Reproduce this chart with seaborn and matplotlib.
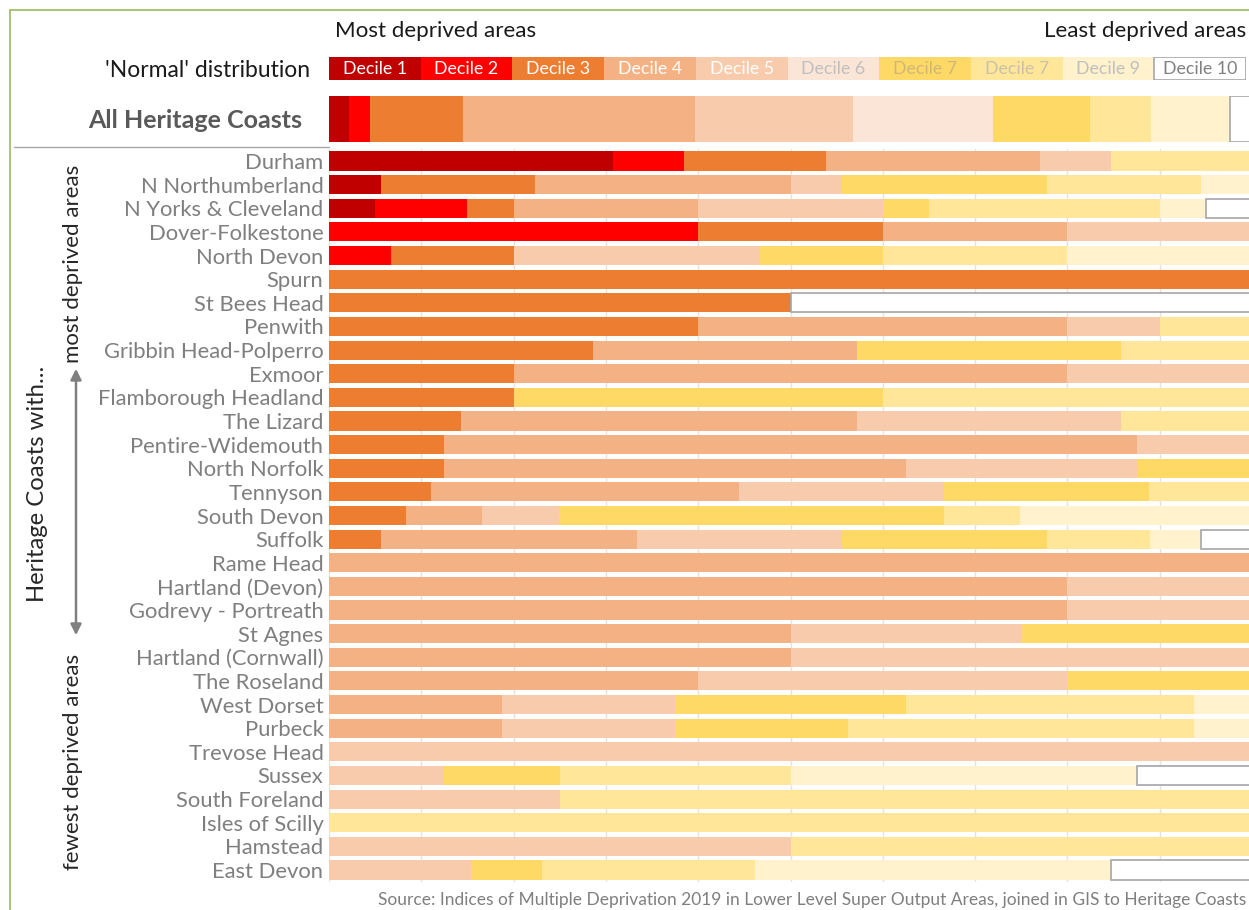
import matplotlib
matplotlib.use("Agg")
import matplotlib.pyplot as plt
import seaborn as sns
import numpy as np
import pandas as pd
from matplotlib.lines import Line2D

# ---------------- data ----------------
coasts = ["Durham", "N Northumberland", "N Yorks & Cleveland", "Dover-Folkestone",
          "North Devon", "Spurn", "St Bees Head", "Penwith", "Gribbin Head-Polperro",
          "Exmoor", "Flamborough Headland", "The Lizard", "Pentire-Widemouth",
          "North Norfolk", "Tennyson", "South Devon", "Suffolk", "Rame Head",
          "Hartland (Devon)", "Godrevy - Portreath", "St Agnes", "Hartland (Cornwall)",
          "The Roseland", "West Dorset", "Purbeck", "Trevose Head", "Sussex",
          "South Foreland", "Isles of Scilly", "Hamstead", "East Devon"]

# share (%) of each coast's areas falling in each deprivation decile
d1 = [30.8, 5.6, 5, 0, 0, 0, 0, 0, 0, 0, 0, 0, 0, 0, 0, 0, 0, 0, 0, 0, 0, 0, 0, 0, 0, 0, 0, 0, 0, 0, 0]
d2 = [7.7, 0, 10, 40, 6.7, 0, 0, 0, 0, 0, 0, 0, 0, 0, 0, 0, 0, 0, 0, 0, 0, 0, 0, 0, 0, 0, 0, 0, 0, 0, 0]
d3 = [15.4, 16.7, 5, 20, 13.3, 100, 50, 40, 28.6, 20, 20, 14.3, 12.5, 12.5, 11.1, 8.3, 5.6,
      0, 0, 0, 0, 0, 0, 0, 0, 0, 0, 0, 0, 0, 0]
d4 = [23.1, 27.8, 20, 20, 0, 0, 0, 40, 28.6, 60, 0, 42.9, 75, 50, 33.3, 8.3, 27.8,
      100, 80, 80, 50, 50, 40, 18.75, 18.75, 0, 0, 0, 0, 0, 0]
d5 = [7.7, 5.5, 20, 20, 26.7, 0, 0, 10, 0, 20, 0, 28.6, 12.5, 25, 22.2, 8.3, 22.2,
      0, 20, 20, 25, 50, 40, 18.75, 18.75, 100, 12.5, 25, 0, 50, 15.4]
d6 = [0] * 31
d7 = [0, 22.2, 5, 0, 13.3, 0, 0, 0, 28.6, 0, 40, 0, 0, 12.5, 22.2, 41.7, 22.2,
      0, 0, 0, 25, 0, 20, 25, 18.75, 0, 12.5, 0, 0, 0, 7.7]
d8 = [15.3, 16.7, 25, 0, 20, 0, 0, 10, 14.2, 0, 40, 14.2, 0, 0, 11.2, 8.3, 11.1,
      0, 0, 0, 0, 0, 0, 31.25, 37.5, 0, 25, 75, 100, 50, 23.1]
d9 = [0, 5.5, 5, 0, 20, 0, 0, 0, 0, 0, 0, 0, 0, 0, 0, 25.1, 5.6,
      0, 0, 0, 0, 0, 0, 6.25, 6.25, 0, 37.5, 0, 0, 0, 38.5]
d10 = [0, 0, 5, 0, 0, 0, 50, 0, 0, 0, 0, 0, 0, 0, 0, 0, 5.5,
       0, 0, 0, 0, 0, 0, 0, 0, 0, 12.5, 0, 0, 0, 15.3]

all_label = "All Heritage Coasts"
all_share = [2.2, 2.2, 10.1, 25.2, 17.1, 15.1, 10.6, 6.6, 8.5, 2.4]

normal_label = "'Normal' distribution"
normal_share = [10, 10, 10, 10, 10, 10, 10, 10, 10, 10]
decile_labels = ["Decile 1", "Decile 2", "Decile 3", "Decile 4", "Decile 5",
                 "Decile 6", "Decile 7", "Decile 7", "Decile 9", "Decile 10"]

# ---------------- style ----------------
decile_colors = ["#C00000", "#FF0000", "#ED7D31", "#F4B183", "#F8CBAD",
                 "#FBE5D6", "#FFD966", "#FFE699", "#FFF2CC", "#FFFFFF"]
label_colors = ["white", "white", "white", "white", "white",
                "#BFBFBF", "#CDB878", "#C9C2A8", "#BFBFBF", "#808080"]

sns.set_theme(style="white")
FONT = ["Lato", "DejaVu Sans"]
plt.rcParams["font.family"] = FONT

W, H = 1249, 910
fig = plt.figure(figsize=(W / 100, H / 100), dpi=100)


def axes_px(x0, y0, x1, y1):
    return fig.add_axes([x0 / W, 1 - y1 / H, (x1 - x0) / W, (y1 - y0) / H])


def stacked(ax, cats, deciles, height):
    starts = np.zeros(len(cats))
    for k, vals in enumerate(deciles):
        vals = np.asarray(vals, dtype=float)
        keep = vals > 0
        if keep.any():
            df = pd.DataFrame({"cat": np.array(cats)[keep], "share": vals[keep]})
            sns.barplot(data=df, x="share", y="cat", order=cats, orient="h",
                        color=decile_colors[k], saturation=1, width=height,
                        errorbar=None, left=starts[keep],
                        edgecolor="#A6A6A6" if k == 9 else "none",
                        linewidth=1.2 if k == 9 else 0, ax=ax, zorder=3)
        starts += vals
    ax.set_xlim(0, 100)
    ax.set_ylim(len(cats) - 0.5, -0.5)
    ax.set_xlabel("")
    ax.set_ylabel("")
    for s in ax.spines.values():
        s.set_visible(False)


# main chart
ax = axes_px(329, 149.2, 1252, 881.8)
stacked(ax, coasts, [d1, d2, d3, d4, d5, d6, d7, d8, d9, d10], 0.81)
ax.set_xticks(np.arange(0, 101, 10))
ax.set_xticklabels([])
ax.grid(axis="x", color="#E3E3E3", linewidth=1, zorder=0)
ax.set_axisbelow(True)
ax.tick_params(axis="y", length=0, pad=4, labelsize=15.8, labelcolor="#7F7F7F")
ax.tick_params(axis="x", length=0)

# all heritage coasts row
ax2 = axes_px(329, 96, 1252, 142)
stacked(ax2, [all_label], [[v] for v in all_share], 1.0)
ax2.set_xticks([])
ax2.tick_params(axis="y", length=0, pad=19.5, labelsize=18, labelcolor="#595959")
for t in ax2.get_yticklabels():
    t.set_fontweight("bold")

# normal distribution legend row
ax3 = axes_px(329, 57, 1246, 80)
stacked(ax3, [normal_label], [[v] for v in normal_share], 1.0)
ax3.set_xticks([])
ax3.tick_params(axis="y", length=0, pad=13.5, labelsize=16.5, labelcolor="#1A1A1A")
cum = np.cumsum([0] + normal_share)
for k, lab in enumerate(decile_labels):
    ax3.text((cum[k] + cum[k + 1]) / 2, 0, lab, ha="center", va="center",
             fontsize=12.8, color=label_colors[k], zorder=5)

# header texts
fig.text(335 / W, 1 - 31 / H, "Most deprived areas", ha="left", va="center",
         fontsize=16.1, color="#1A1A1A")
fig.text(1246 / W, 1 - 31 / H, "Least deprived areas", ha="right", va="center",
         fontsize=16.1, color="#1A1A1A")

# separator under all heritage coasts
fig.add_artist(Line2D([14 / W, 329 / W], [1 - 147 / H, 1 - 147 / H],
                      color="#A6A6A6", linewidth=1))

# side annotations
fig.text(38 / W, 1 - 484 / H, "Heritage Coasts with...", rotation=90,
         ha="center", va="center", fontsize=17.2, color="#262626")
fig.text(73 / W, 1 - 264 / H, "most deprived areas", rotation=90,
         ha="center", va="center", fontsize=16, color="#262626")
fig.text(73 / W, 1 - 762 / H, "fewest deprived areas", rotation=90,
         ha="center", va="center", fontsize=16, color="#262626")
fig.add_artist(matplotlib.patches.FancyArrowPatch(
    (76 / W, 1 - 366 / H), (76 / W, 1 - 638 / H), transform=fig.transFigure,
    arrowstyle="<|-|>", mutation_scale=16, color="#808080", linewidth=1.8))

# source
fig.text(1246 / W, 1 - 900 / H,
         "Source: Indices of Multiple Deprivation 2019 in Lower Level Super Output Areas, joined in GIS to Heritage Coasts",
         ha="right", va="center", fontsize=12.5, color="#7F7F7F")

# frame lines (left and top)
fig.add_artist(Line2D([10 / W, 10 / W], [0, 1 - 10 / H], color="#9BBB59", linewidth=1.2))
fig.add_artist(Line2D([10 / W, 1], [1 - 10 / H, 1 - 10 / H], color="#9BBB59", linewidth=1.2))

fig.savefig("out.png", dpi=100, facecolor="white")
